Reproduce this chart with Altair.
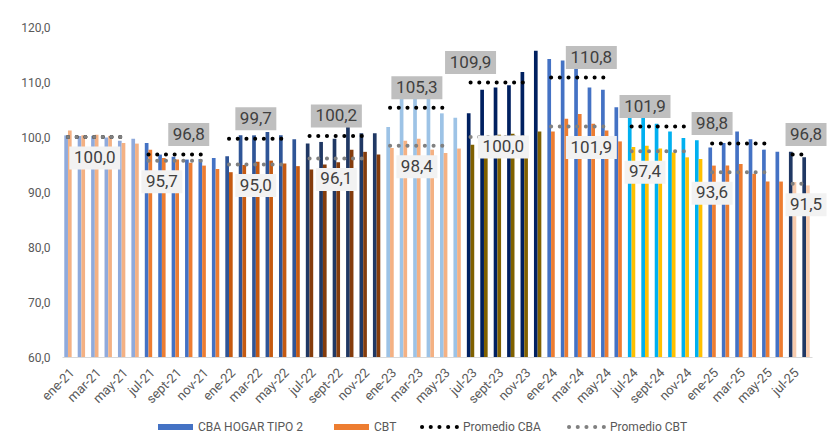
import altair as alt
import pandas as pd

# ---------------- data ----------------
months = [
    "ene-21", "feb-21", "mar-21", "abr-21", "may-21", "jun-21",
    "jul-21", "ago-21", "sept-21", "oct-21", "nov-21", "dic-21",
    "ene-22", "feb-22", "mar-22", "abr-22", "may-22", "jun-22",
    "jul-22", "ago-22", "sept-22", "oct-22", "nov-22", "dic-22",
    "ene-23", "feb-23", "mar-23", "abr-23", "may-23", "jun-23",
    "jul-23", "ago-23", "sept-23", "oct-23", "nov-23", "dic-23",
    "ene-24", "feb-24", "mar-24", "abr-24", "may-24", "jun-24",
    "jul-24", "ago-24", "sept-24", "oct-24", "nov-24", "dic-24",
    "ene-25", "feb-25", "mar-25", "abr-25", "may-25", "jun-25",
    "jul-25", "ago-25",
]

cba = [
    100.3, 100.2, 100.2, 99.9, 99.3, 99.7,
    98.9, 96.8, 96.4, 95.9, 96.0, 96.2,
    96.5, 100.3, 100.3, 100.9, 100.3, 99.6,
    98.8, 99.1, 99.7, 101.8, 100.7, 100.7,
    101.8, 107.0, 107.5, 107.7, 104.3, 103.5,
    104.3, 108.6, 109.0, 109.4, 111.8, 115.7,
    114.2, 113.9, 113.8, 109.0, 108.6, 105.4,
    103.9, 104.1, 102.4, 101.0, 99.8, 99.4,
    98.1, 98.9, 101.0, 99.6, 97.7, 97.3,
    97.3, 96.3,
]

cbt = [
    101.2, 100.3, 100.4, 100.2, 98.9, 98.8,
    97.7, 96.2, 95.9, 95.3, 94.8, 94.2,
    93.6, 94.9, 95.5, 95.7, 95.2, 94.7,
    94.1, 95.0, 95.4, 97.7, 97.3, 96.8,
    98.0, 99.3, 99.7, 97.7, 97.1, 97.9,
    98.6, 99.6, 100.4, 100.6, 99.8, 101.0,
    101.0, 103.3, 104.2, 102.4, 101.2, 99.2,
    98.2, 98.4, 97.9, 97.2, 96.3, 96.0,
    94.8, 94.8, 95.1, 93.3, 91.9, 91.9,
    91.8, 91.2,
]

# semester averages
prom_cba = [100.0, 96.8, 99.7, 100.2, 105.3, 109.9, 110.8, 101.9, 98.8, 96.8]
prom_cbt = [100.0, 95.7, 95.0, 96.1, 98.4, 100.0, 101.9, 97.4, 93.6, 91.5]

# month on which each semester's data label sits
cba_label_at = [None, "oct-21", "mar-22", "sept-22", "mar-23", "jul-23",
                "abr-24", "ago-24", "ene-25", "ago-25"]
cbt_label_at = ["mar-21", "ago-21", "mar-22", "sept-22", "mar-23", "sept-23",
                "abr-24", "ago-24", "ene-25", "ago-25"]

# ---------------- styles ----------------
cba_colors = ["#8FAADC", "#4472C4", "#2F5597", "#203864", "#9DC3E6",
              "#002060", "#4472C4", "#00B0F0", "#4472C4", "#203864"]
cbt_colors = ["#F4B183", "#ED7D31", "#C55A11", "#843C0C", "#F4B183",
              "#7F6000", "#ED7D31", "#FFC000", "#ED7D31", "#F8CBAD"]
# label nudges (pixels): default below-offset for CBT boxes, one placed closer
cbt_label_nudge = {5: (6, 10)}

FONT = "Roboto"
W, H = 750, 330

# ---------------- tables ----------------
rows = []
for i, m in enumerate(months):
    s = i // 6
    rows.append(dict(mes=m, serie="CBA", valor=cba[i], color=cba_colors[s]))
    rows.append(dict(mes=m, serie="CBT", valor=cbt[i], color=cbt_colors[s]))
bars_df = pd.DataFrame(rows)

avg_rows = []
for s in range(len(prom_cba)):
    idx = list(range(6 * s, min(6 * s + 6, len(months))))
    avg_rows.append(dict(ini=months[idx[0]], fin=months[idx[min(4, len(idx) - 1)]],
                         cba=prom_cba[s], cbt=prom_cbt[s]))
avg_df = pd.DataFrame(avg_rows)

# ---------------- encodings ----------------
x_scale = alt.Scale(domain=months, paddingInner=0.45, paddingOuter=0.17)
x_axis = alt.Axis(values=months[::2], labelAngle=-45, labelAlign="right",
                  labelBaseline="top", labelPadding=9, ticks=False,
                  domainColor="#D9D9D9", domainWidth=1, title=None,
                  labelFont=FONT, labelFontSize=13, labelColor="#595959")
y_scale = alt.Scale(domain=[60, 120], zero=False, nice=False)
y_axis = alt.Axis(values=[60, 70, 80, 90, 100, 110, 120], grid=False, ticks=False,
                  domain=False, labelPadding=12, title=None,
                  labelExpr="replace(format(datum.value, '.1f'), '.', ',')",
                  labelFont=FONT, labelFontSize=12, labelColor="#595959")


def X(field):
    return alt.X(f"{field}:N", sort=months, scale=x_scale, axis=x_axis)


def Y(field):
    return alt.Y(f"{field}:Q", scale=y_scale, axis=y_axis)


bars = alt.Chart(bars_df).mark_bar().encode(
    x=X("mes"),
    xOffset=alt.XOffset("serie:N", scale=alt.Scale(domain=["CBA", "CBT"],
                                                    paddingInner=0, paddingOuter=0)),
    y=Y("valor"),
    y2=alt.Y2(datum=60),
    color=alt.Color("color:N", scale=None),
)

dot_style = dict(strokeDash=[0.1, 8.6], strokeCap="round", strokeWidth=4)

avg_cba = alt.Chart(avg_df).mark_rule(color="#000000", **dot_style).encode(
    x=X("ini"), x2="fin:N", y=Y("cba"))
avg_cbt = alt.Chart(avg_df).mark_rule(color="#808080", **dot_style).encode(
    x=X("ini"), x2="fin:N", y=Y("cbt"))

TXT = "replace(format(datum.v, '.1f'), '.', ',')"
S = 60.0
hh = 11.5 / (S / 2)
p4 = f"M{-20.5 / 30:.3f},{-hh:.3f}H{20.5 / 30:.3f}V{hh:.3f}H{-20.5 / 30:.3f}Z"
p5 = f"M{-25.5 / 30:.3f},{-hh:.3f}H{25.5 / 30:.3f}V{hh:.3f}H{-25.5 / 30:.3f}Z"
shape_enc = alt.Shape("nch:N", scale=alt.Scale(domain=["n4", "n5"], range=[p4, p5]),
                      legend=None)


def label_layers(df, dx, dy, fill):
    base = alt.Chart(df).transform_calculate(
        txt=TXT, nch="'n' + length(" + TXT + ")")
    box = base.mark_point(filled=True, opacity=1, xOffset=dx, yOffset=dy,
                          strokeWidth=0).encode(
        x=X("mes"), y=Y("v"), shape=shape_enc, size=alt.value(S * S),
        color=alt.value(fill))
    txt = base.mark_text(xOffset=dx, yOffset=dy, font=FONT, fontSize=17,
                         color="#404040", baseline="middle", align="center").encode(
        x=X("mes"), y=Y("v"), text="txt:N")
    return [box, txt]


layers = [bars, avg_cba, avg_cbt]

lab_cba = pd.DataFrame([dict(mes=cba_label_at[s], v=prom_cba[s])
                        for s in range(len(prom_cba)) if cba_label_at[s]])
layers += label_layers(lab_cba, 0, -20, "#BFBFBF")

groups = {}
for s in range(len(prom_cbt)):
    if cbt_label_at[s]:
        key = cbt_label_nudge.get(s, (0, 21))
        groups.setdefault(key, []).append(dict(mes=cbt_label_at[s], v=prom_cbt[s]))
for (dx, dy), recs in groups.items():
    layers += label_layers(pd.DataFrame(recs), dx, dy, "#F2F2F2")

# ---------------- legend (drawn in the bottom padding) ----------------
one = pd.DataFrame({"k": [0]})
LY = 400
legend_items = [
    ("rect", "#4472C4", 96, 131, "CBA HOGAR TIPO 2"),
    ("rect", "#ED7D31", 272, 307, "CBT"),
    ("dots", "#000000", 360, 396, "Promedio CBA"),
    ("dots", "#808080", 507, 543, "Promedio CBT"),
]
for kind, col, x0, x1, name in legend_items:
    if kind == "rect":
        sym = alt.Chart(one).mark_rect(color=col).encode(
            x=alt.value(x0), x2=alt.value(x1), y=alt.value(LY - 3), y2=alt.value(LY + 3))
    else:
        sym = alt.Chart(one).mark_rule(color=col, strokeDash=[0.1, 8.6],
                                       strokeCap="round", strokeWidth=4).encode(
            x=alt.value(x0), x2=alt.value(x1), y=alt.value(LY))
    lab = alt.Chart(pd.DataFrame({"t": [name]})).mark_text(
        align="left", baseline="middle", font=FONT, fontSize=12, color="#595959").encode(
        x=alt.value(x1 + 5), y=alt.value(LY), text="t:N")
    layers += [sym, lab]

chart = alt.layer(*layers).properties(
    width=W, height=H,
    autosize=alt.AutoSizeParams(type="none"),
    padding={"left": 54, "top": 19, "right": 16, "bottom": 95},
).configure_view(stroke=None)

chart.save("out.html", embed_options={"renderer": "svg", "actions": False})
